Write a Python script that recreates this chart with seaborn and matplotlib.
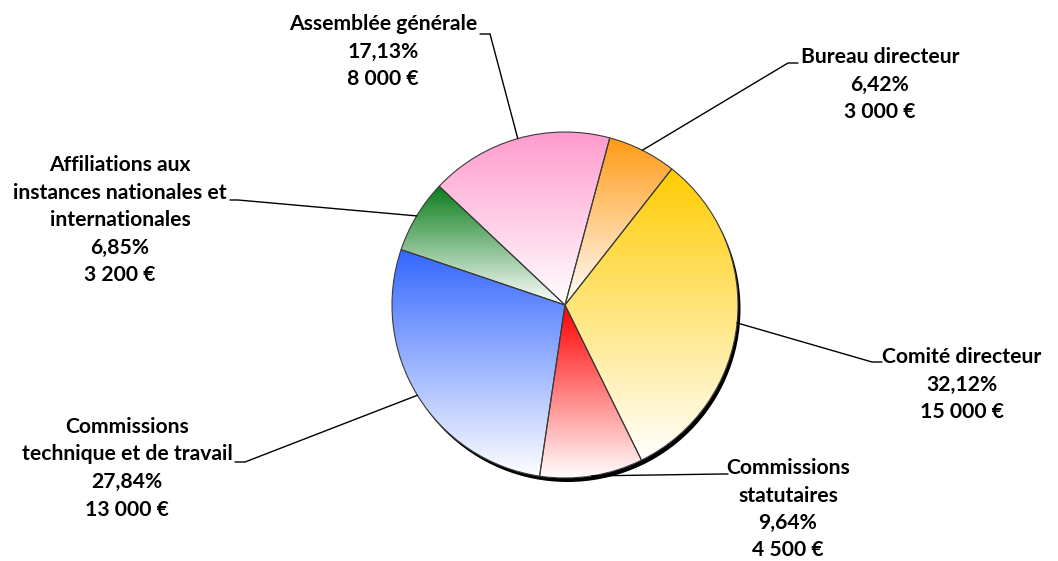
import numpy as np
import seaborn as sns
import matplotlib.pyplot as plt
from matplotlib.colors import LinearSegmentedColormap
from matplotlib.patches import Circle

# budget data (clockwise from the top)
categories = ["Bureau directeur", "Comité directeur", "Commissions\nstatutaires",
              "Commissions\ntechnique et de travail",
              "Affiliations aux\ninstances nationales et\ninternationales",
              "Assemblée générale"]
amounts = [3000, 15000, 4500, 13000, 3200, 8000]
colors = ["#FF9A14", "#FFCC00", "#FF0000", "#3366FF", "#0A7D1A", "#FF99CC"]

# layout in image pixels (x, y from top)
W, H = 1058, 561
text_pos = [(880, 57), (962, 357), (788, 468), (127, 427), (120, 165), (383, 24)]
elbows = [(788, 63), (872, 362), (722, 474), (245, 462), (238, 200), (490, 34)]
stubs = [(798, 63), (882, 362), (728, 474), (235, 462), (230, 200), (480, 34)]
line_step = 27.5

sns.set_theme(style="white")
plt.rcParams['font.family'] = ['Lato', 'DejaVu Sans']

fig = plt.figure(figsize=(W / 100, H / 100), dpi=100)
ax = fig.add_axes([0, 0, 1, 1])

cx, cy, r = 565, H - 305, 173
total = sum(amounts)

# shadow + white base
ax.add_patch(Circle((cx + 2.5, cy - 4), r, facecolor="black", edgecolor="none", zorder=0))
ax.add_patch(Circle((cx, cy), r, facecolor="white", edgecolor="none", zorder=0.5))

wedges, _ = ax.pie(amounts, center=(cx, cy), radius=r, startangle=75, counterclock=False,
                   colors=["none"] * len(amounts),
                   wedgeprops=dict(edgecolor="#3a3a3a", linewidth=0.8, zorder=3))

# vertical gradient fill (colour at top -> white at bottom) clipped to each slice
for w, c in zip(wedges, colors):
    verts = w.get_path().vertices
    x0, y0 = verts.min(axis=0)
    x1, y1 = verts.max(axis=0)
    cmap = LinearSegmentedColormap.from_list("g", [c, "white"])
    grad = np.linspace(0, 1, 256).reshape(-1, 1)
    im = ax.imshow(grad, cmap=cmap, extent=(x0, x1, y0, y1), origin="upper",
                   aspect="auto", zorder=1, interpolation="bilinear")
    im.set_clip_path(w)

for i, w in enumerate(wedges):
    mid = np.deg2rad((w.theta1 + w.theta2) / 2)
    ex, ey = cx + r * np.cos(mid), cy + r * np.sin(mid)
    bx, by = elbows[i]
    sx, sy = stubs[i]
    ax.plot([ex, bx, sx], [ey, H - by, H - sy], color="black", lw=1.0, zorder=4,
            solid_joinstyle="miter")

    pct = f"{amounts[i] / total * 100:.2f}".replace(".", ",") + "%"
    eur = f"{amounts[i]:,}".replace(",", " ") + " €"
    lines = categories[i].split("\n") + [pct, eur]
    tx, ty = text_pos[i]
    for k, ln in enumerate(lines):
        ax.text(tx, H - (ty + k * line_step), ln, ha="center", va="center",
                fontsize=15.2, fontweight="bold", color="black", zorder=5)

ax.set_xlim(0, W)
ax.set_ylim(0, H)
ax.set_aspect("equal")
ax.axis("off")
fig.savefig("out.png", dpi=100, facecolor="white")
